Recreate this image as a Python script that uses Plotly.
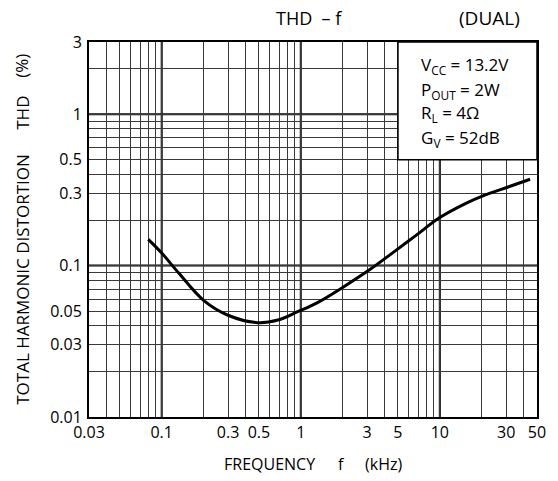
import math
import plotly.graph_objects as go

# ---- data ----
freq_khz = [0.08, 0.10, 0.133, 0.20, 0.30, 0.49, 0.685, 0.95, 1.32, 2.04, 3.16, 4.89, 6.78, 9.93, 15.4, 20.2, 31.3, 44.6]
thd_pct = [0.149, 0.121, 0.089, 0.059, 0.047, 0.042, 0.0437, 0.0496, 0.057, 0.0726, 0.0945, 0.127, 0.159, 0.207, 0.258, 0.288, 0.332, 0.372]

x_tick_vals = [0.03, 0.1, 0.3, 0.5, 1, 3, 5, 10, 30, 50]
x_tick_text = ["0.03", "0.1", "0.3", "0.5", "1", "3", "5", "10", "30", "50"]
y_tick_vals = [0.01, 0.03, 0.05, 0.1, 0.3, 0.5, 1, 3]
y_tick_text = ["0.01", "0.03", "0.05", "0.1", "0.3", "0.5", "1", "3"]

x_grid = [0.04, 0.05, 0.06, 0.07, 0.08, 0.09, 0.1, 0.2, 0.3, 0.4, 0.5, 0.6, 0.7, 0.8, 0.9,
          1, 2, 3, 4, 5, 6, 7, 8, 9, 10, 20, 30, 40]
y_grid = [0.02, 0.03, 0.04, 0.05, 0.06, 0.07, 0.08, 0.09, 0.1, 0.2, 0.3, 0.4, 0.5, 0.6, 0.7, 0.8, 0.9, 1, 2]
x_decades = [0.1, 1, 10]
y_decades = [0.1, 1]

x_range = [0.03, 50]
y_range = [0.01, 3]

box_lines = ["V<sub>CC</sub> = 13.2V", "P<sub>OUT</sub> = 2W", "R<sub>L</sub> = 4Ω", "G<sub>V</sub> = 52dB"]
y_title_parts = ["TOTAL HARMONIC DISTORTION", "THD", "(%)"]
x_title_parts = ["FREQUENCY", "f", "(kHz)"]

FONT = "Open Sans"
GRID = "#3a3a3a"

fig = go.Figure()
fig.add_trace(go.Scatter(x=freq_khz, y=thd_pct, mode="lines",
                         line=dict(color="black", width=3, shape="spline", smoothing=1.0),
                         showlegend=False, hoverinfo="skip"))

axis_common = dict(
    type="log", showgrid=True, gridcolor=GRID, gridwidth=1,
    showline=True, linecolor="black", linewidth=2, mirror=True,
    ticks="", zeroline=False,
    tickfont=dict(family=FONT, size=16, color="black"),
)

fig.update_xaxes(range=[math.log10(v) for v in x_range], tickmode="array",
                 tickvals=x_tick_vals, ticktext=x_tick_text,
                 minor=dict(tickmode="array", tickvals=x_grid, showgrid=True, gridcolor=GRID, gridwidth=1, ticks=""),
                 **axis_common)
fig.update_yaxes(range=[math.log10(v) for v in y_range], tickmode="array",
                 tickvals=y_tick_vals, ticktext=y_tick_text,
                 minor=dict(tickmode="array", tickvals=y_grid, showgrid=True, gridcolor=GRID, gridwidth=1, ticks=""),
                 ticklabelstandoff=2,
                 **axis_common)

shapes = []
for xv in x_decades:
    shapes.append(dict(type="line", xref="x", yref="paper", x0=xv, x1=xv, y0=0, y1=1,
                       line=dict(color="black", width=2), layer="below"))
for yv in y_decades:
    shapes.append(dict(type="line", xref="paper", yref="y", x0=0, x1=1, y0=yv, y1=yv,
                       line=dict(color="black", width=2), layer="below"))
# condition box
shapes.append(dict(type="rect", xref="x", yref="y", x0=5, x1=50, y0=0.5, y1=3,
                   fillcolor="white", line=dict(color="black", width=1.5), layer="above"))
fig.update_layout(shapes=shapes)

# plot area in page pixels: left 89, right 542, top 42, bottom 417
L, R, T, B = 89, 542, 42, 417
def px(xp):
    return (xp - L) / (R - L)
def py(yp):
    return (B - yp) / (B - T)

ann = []
box_y = [65, 90, 114, 138]
for txt, yy in zip(box_lines, box_y):
    ann.append(dict(text=txt, xref="paper", yref="paper", x=px(423), y=py(yy), xanchor="left", yanchor="middle",
                    showarrow=False, font=dict(family=FONT, size=17, color="black")))
ann.append(dict(text="THD\u00a0\u00a0– f", xref="paper", yref="paper", x=px(311), y=py(18),
                xanchor="center", yanchor="middle", showarrow=False,
                font=dict(family=FONT, size=18, color="black")))
ann.append(dict(text="(DUAL)", xref="paper", yref="paper", x=px(494), y=py(18),
                xanchor="center", yanchor="middle", showarrow=False,
                font=dict(family=FONT, size=19, color="black")))
for txt, yy in zip(y_title_parts, [279, 113, 66]):
    ann.append(dict(text=txt, xref="paper", yref="paper", x=px(21), y=py(yy),
                    xanchor="center", yanchor="middle", textangle=-90, showarrow=False,
                    font=dict(family=FONT, size=17, color="black")))
for txt, xx in zip(x_title_parts, [272, 344, 387]):
    ann.append(dict(text=txt, xref="paper", yref="paper", x=px(xx), y=py(464),
                    xanchor="center", yanchor="middle", showarrow=False,
                    font=dict(family=FONT, size=16, color="black")))
fig.update_layout(annotations=ann)

fig.update_layout(
    width=558, height=481,
    margin=dict(l=L, r=558 - R, t=T, b=481 - B, pad=0),
    paper_bgcolor="white", plot_bgcolor="white",
    font=dict(family=FONT, color="black"),
)

fig.write_html("out.html", config={"displayModeBar": False},
               post_script="document.body.style.margin='0px';document.body.style.padding='0px';")
